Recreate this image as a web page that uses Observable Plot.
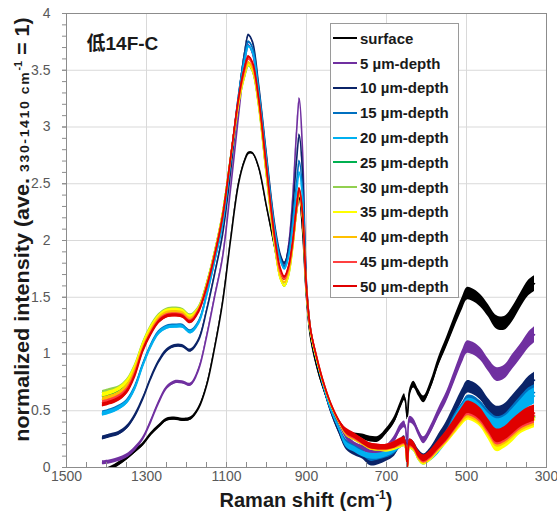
<!DOCTYPE html>
<html><head><meta charset="utf-8">
<script src="https://cdn.jsdelivr.net/npm/d3@7"></script>
<script src="https://cdn.jsdelivr.net/npm/@observablehq/plot@0.6"></script>
<style>
body{margin:0;background:#fff;}
#wrap{position:relative;width:557px;height:517px;font-family:"Liberation Sans",Arial,sans-serif;}
#legend{position:absolute;left:330px;top:23px;width:129px;height:275px;border:1px solid #9a9a9a;background:#fff;box-sizing:border-box;}
.item{position:absolute;left:2px;height:20px;display:flex;align-items:center;font-weight:bold;font-size:15px;color:#1a1a1a;white-space:nowrap;}
.sw{width:24px;height:2px;margin-right:3px;}
</style></head><body><div id="wrap"><div id="legend"></div></div>
<script>
// Raman shift (cm-1) sample positions
const wavenumber = [1410,1390,1370,1350,1330,1310,1290,1270,1250,1230,1210,1190,1170,1150,1130,1110,1090,1070,1055,1045,1035,1020,1000,980,965,955,945,935,925,918,910,900,890,875,860,840,820,800,780,760,740,720,700,680,665,655,648,642,632,620,607,590,570,550,530,510,498,485,465,445,425,405,385,365,345,330];

const surface = [-0.03,-0.01,0.03,0.08,0.14,0.2,0.29,0.36,0.42,0.43,0.42,0.43,0.52,0.72,1.05,1.45,2.0,2.5,2.7,2.77,2.77,2.65,2.3,1.95,1.7,1.66,1.75,1.95,2.25,2.38,2.1,1.5,1.15,0.9,0.72,0.53,0.4,0.3,0.28,0.27,0.25,0.25,0.32,0.42,0.55,0.62,0.45,0.66,0.73,0.66,0.6,0.72,0.93,1.1,1.28,1.45,1.53,1.52,1.47,1.38,1.28,1.27,1.35,1.47,1.58,1.62];
const depth5 = [0.04,0.05,0.07,0.1,0.16,0.25,0.4,0.57,0.7,0.75,0.75,0.73,0.86,1.15,1.5,1.85,2.45,3.1,3.55,3.72,3.65,3.3,2.7,2.1,1.85,1.78,1.95,2.35,2.95,3.25,2.8,1.62,1.22,0.97,0.76,0.55,0.4,0.27,0.2,0.17,0.14,0.13,0.17,0.25,0.35,0.38,0.18,0.42,0.4,0.31,0.24,0.33,0.48,0.62,0.8,0.98,1.06,1.05,1.0,0.9,0.82,0.84,0.93,1.02,1.12,1.17];
const depth10 = [0.26,0.28,0.3,0.35,0.45,0.6,0.78,0.93,1.03,1.07,1.07,1.03,1.12,1.38,1.7,2.05,2.6,3.25,3.65,3.81,3.75,3.38,2.75,2.15,1.87,1.8,1.92,2.25,2.7,2.93,2.6,1.6,1.22,0.96,0.74,0.5,0.32,0.18,0.13,0.1,0.04,0.05,0.08,0.13,0.22,0.25,0.06,0.22,0.2,0.13,0.09,0.14,0.25,0.36,0.5,0.64,0.71,0.7,0.65,0.55,0.48,0.5,0.57,0.65,0.73,0.77];
const depth15 = [0.48,0.5,0.53,0.58,0.7,0.9,1.07,1.19,1.24,1.25,1.25,1.2,1.28,1.52,1.82,2.15,2.7,3.28,3.62,3.75,3.7,3.35,2.72,2.12,1.84,1.77,1.88,2.15,2.5,2.7,2.45,1.57,1.2,0.95,0.75,0.52,0.36,0.22,0.17,0.13,0.08,0.09,0.11,0.15,0.2,0.22,0.03,0.2,0.18,0.1,0.06,0.1,0.18,0.28,0.42,0.52,0.58,0.58,0.53,0.45,0.39,0.41,0.48,0.56,0.63,0.66];
const depth20 = [0.47,0.49,0.52,0.57,0.69,0.89,1.06,1.18,1.23,1.24,1.24,1.19,1.27,1.51,1.81,2.14,2.68,3.25,3.58,3.71,3.66,3.32,2.7,2.1,1.82,1.75,1.85,2.1,2.42,2.6,2.38,1.56,1.2,0.95,0.75,0.52,0.35,0.2,0.16,0.12,0.1,0.1,0.12,0.16,0.2,0.21,0.02,0.19,0.17,0.09,0.05,0.09,0.16,0.26,0.4,0.5,0.55,0.55,0.5,0.42,0.37,0.39,0.45,0.53,0.6,0.63];
const depth25 = [0.63,0.65,0.68,0.74,0.87,1.07,1.22,1.33,1.38,1.38,1.37,1.32,1.4,1.61,1.89,2.23,2.73,3.22,3.45,3.55,3.5,3.21,2.58,1.98,1.67,1.6,1.7,1.94,2.28,2.45,2.24,1.56,1.21,0.97,0.77,0.56,0.41,0.3,0.26,0.22,0.18,0.17,0.17,0.19,0.22,0.23,0.0,0.21,0.19,0.11,0.07,0.11,0.19,0.27,0.36,0.46,0.5,0.49,0.44,0.34,0.25,0.27,0.33,0.39,0.43,0.45];
const depth30 = [0.66,0.68,0.7,0.76,0.89,1.09,1.24,1.34,1.39,1.4,1.39,1.34,1.41,1.62,1.9,2.24,2.72,3.2,3.44,3.54,3.49,3.19,2.56,1.96,1.66,1.6,1.69,1.93,2.26,2.43,2.22,1.55,1.2,0.96,0.77,0.56,0.41,0.3,0.26,0.22,0.18,0.17,0.17,0.19,0.21,0.22,0.0,0.2,0.18,0.1,0.06,0.1,0.18,0.26,0.35,0.44,0.49,0.48,0.43,0.33,0.24,0.26,0.32,0.38,0.42,0.44];
const depth35 = [0.64,0.66,0.69,0.75,0.88,1.08,1.23,1.33,1.38,1.39,1.38,1.33,1.4,1.61,1.89,2.23,2.72,3.2,3.45,3.55,3.5,3.2,2.57,1.97,1.66,1.6,1.69,1.92,2.25,2.42,2.21,1.55,1.2,0.96,0.77,0.56,0.41,0.3,0.26,0.22,0.18,0.17,0.16,0.18,0.2,0.21,0.0,0.19,0.17,0.09,0.05,0.09,0.17,0.25,0.34,0.43,0.47,0.46,0.41,0.3,0.2,0.23,0.29,0.36,0.4,0.42];
const depth40 = [0.6,0.62,0.65,0.71,0.85,1.05,1.2,1.31,1.36,1.37,1.36,1.31,1.39,1.6,1.88,2.22,2.72,3.22,3.47,3.57,3.52,3.22,2.6,2.0,1.69,1.63,1.72,1.94,2.26,2.43,2.22,1.56,1.21,0.97,0.77,0.56,0.41,0.3,0.26,0.22,0.18,0.17,0.17,0.19,0.21,0.22,0.0,0.2,0.18,0.1,0.06,0.1,0.18,0.26,0.35,0.45,0.49,0.48,0.43,0.33,0.24,0.26,0.32,0.38,0.42,0.44];
const depth45 = [0.57,0.59,0.62,0.68,0.82,1.03,1.18,1.29,1.34,1.35,1.34,1.29,1.38,1.59,1.87,2.21,2.72,3.24,3.5,3.6,3.55,3.25,2.63,2.02,1.72,1.66,1.75,1.96,2.28,2.44,2.23,1.57,1.22,0.98,0.78,0.57,0.42,0.31,0.27,0.23,0.19,0.18,0.18,0.2,0.22,0.23,0.0,0.21,0.19,0.11,0.07,0.11,0.19,0.27,0.37,0.47,0.51,0.5,0.45,0.35,0.26,0.28,0.34,0.4,0.44,0.46];
const depth50 = [0.55,0.57,0.6,0.66,0.8,1.02,1.17,1.28,1.33,1.34,1.33,1.28,1.37,1.58,1.86,2.2,2.72,3.25,3.52,3.62,3.57,3.27,2.65,2.05,1.75,1.68,1.77,1.98,2.3,2.46,2.25,1.58,1.22,0.98,0.78,0.57,0.42,0.32,0.28,0.23,0.19,0.18,0.18,0.2,0.23,0.24,0.0,0.22,0.2,0.12,0.08,0.12,0.2,0.28,0.38,0.48,0.53,0.52,0.47,0.37,0.28,0.3,0.36,0.42,0.46,0.48];

// half thickness of the noisy trace, read per position
const noiseHalfWidth = [0.018,0.018,0.018,0.018,0.018,0.014,0.014,0.014,0.014,0.014,0.014,0.014,0.014,0.01,0.01,0.01,0.01,0.01,0.01,0.01,0.01,0.01,0.01,0.01,0.01,0.01,0.01,0.01,0.01,0.01,0.01,0.01,0.01,0.01,0.01,0.01,0.01,0.025,0.025,0.025,0.025,0.025,0.025,0.03,0.03,0.03,0.03,0.03,0.03,0.03,0.03,0.035,0.04,0.045,0.05,0.055,0.055,0.055,0.055,0.055,0.06,0.06,0.065,0.065,0.07,0.07];

const seriesNames = ["surface","5 µm-depth","10 µm-depth","15 µm-depth","20 µm-depth","25 µm-depth","30 µm-depth","35 µm-depth","40 µm-depth","45 µm-depth","50 µm-depth"];
const seriesColors = ["#000000","#7030a0","#0b2468","#0070c0","#00b0f0","#00b050","#92d050","#ffff00","#ffc000","#ff4040","#e00000"];
const seriesValues = [surface,depth5,depth10,depth15,depth20,depth25,depth30,depth35,depth40,depth45,depth50];

const xMajorTicks = [1500,1300,1100,900,700,500,300];
const xGridTicks = [1300,1100,900,700,500];
const xMinorTicks = d3.range(300, 1501, 50);
const yMajorTicks = [0,0.5,1,1.5,2,2.5,3,3.5,4];
const yGridTicks = [0.5,1,1.5,2,2.5,3,3.5];
const yMinorTicks = d3.range(0, 41, 1).map(d => d / 10);
const titleText = "低14F-C";

seriesValues.forEach((a, k) => { if (a.length !== wavenumber.length) throw new Error(seriesNames[k] + " length " + a.length); });
if (noiseHalfWidth.length !== wavenumber.length) throw new Error("noise length " + noiseHalfWidth.length);

const seriesMarks = seriesValues.flatMap((vals, k) => {
  const rows = vals.map((v, i) => ({wn: wavenumber[i], v, lo: v - noiseHalfWidth[i], hi: v + noiseHalfWidth[i]}));
  return [
    Plot.areaY(rows, {x: "wn", y1: "lo", y2: "hi", fill: seriesColors[k], curve: "catmull-rom", clip: true}),
    Plot.lineY(rows, {x: "wn", y: "v", stroke: seriesColors[k], strokeWidth: 1.6, curve: "catmull-rom", clip: true})
  ];
});

const axisColor = "#8c8c8c";
const plot = Plot.plot({
  width: 557, height: 517,
  marginLeft: 66, marginRight: 11, marginTop: 13, marginBottom: 50,
  style: {fontFamily: "Liberation Sans, Arial, sans-serif", fontSize: "14px", background: "white", overflow: "visible"},
  x: {domain: [1500, 300], label: null},
  y: {domain: [0, 4], label: null},
  marks: [
    Plot.gridX(xGridTicks, {stroke: "#d9d9d9", strokeOpacity: 1}),
    Plot.gridY(yGridTicks, {stroke: "#d9d9d9", strokeOpacity: 1}),
    ...seriesMarks,
    Plot.frame({stroke: axisColor}),
    Plot.axisY(yMinorTicks, {tickSize: 4, text: null, stroke: axisColor, label: null}),
    Plot.axisY(yMajorTicks, {tickSize: 4, tickPadding: 12, tickFormat: d => String(d), fill: "#595959", stroke: axisColor, label: null}),
    Plot.axisX(xMinorTicks, {tickSize: -5, text: null, stroke: axisColor, label: null}),
    Plot.axisX(xMajorTicks, {tickSize: 0, tickPadding: 4, tickFormat: d => String(d), fill: "#595959", label: null}),
    Plot.text([titleText], {text: d => d, frameAnchor: "top-left", dx: 20, dy: 30, textAnchor: "start", lineAnchor: "middle", fontSize: 19, fontWeight: "bold", fill: "#1a1a1a", fontFamily: "Liberation Sans, Noto Sans CJK SC, sans-serif"})
  ]
});
document.getElementById("wrap").prepend(plot);

const svg = d3.select(plot);
// x-axis title
const xt = svg.append("text").attr("x", 306).attr("y", 507).attr("text-anchor", "middle")
  .attr("font-weight", "bold").attr("font-size", 20).attr("fill", "#1a1a1a");
xt.append("tspan").text("Raman shift (cm");
xt.append("tspan").attr("font-size", 12).attr("dy", -8).text("-1");
xt.append("tspan").attr("dy", 8).text(")");
// y-axis title (stretched along its length to span 17..442 px like the reference)
const yg = svg.append("g");
const yt = yg.append("text").attr("text-anchor", "middle")
  .attr("font-weight", "bold").attr("font-size", 20).attr("fill", "#1a1a1a");
yt.append("tspan").text("normalized intensity (ave. ");
yt.append("tspan").attr("font-size", 13).attr("letter-spacing", 1.5).text("330-1410 cm");
yt.append("tspan").attr("font-size", 10).attr("dy", -7).text("-1");
yt.append("tspan").attr("dy", 7).text(" = 1)");
const len = yt.node().getComputedTextLength() || 400;
const sx = 425 / len;
yg.attr("transform", `translate(29,229.5) rotate(-90) scale(${sx},1)`);

// legend
const legend = d3.select("#legend");
seriesNames.forEach((name, i) => {
  const it = legend.append("div").attr("class", "item").style("top", (4.3 + i * 24.8) + "px");
  it.append("div").attr("class", "sw").style("background", seriesColors[i]);
  it.append("span").text(name);
});
</script>
</body></html>
